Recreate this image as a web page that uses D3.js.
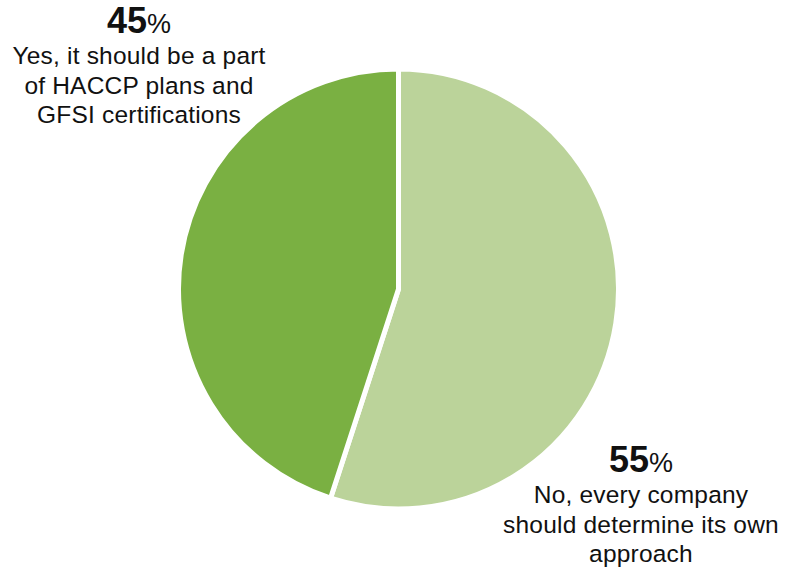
<!DOCTYPE html>
<html>
<head>
<meta charset="utf-8">
<script src="https://cdn.jsdelivr.net/npm/d3@7"></script>
<style>
  html, body { margin: 0; padding: 0; background: #fff; }
  svg { display: block; }
  text { font-family: "Liberation Sans", Arial, Helvetica, sans-serif; fill: #111; }
</style>
</head>
<body>
<svg id="chart" width="793" height="571"></svg>
<script>
// Survey answers, in drawing order (clockwise from 12 o'clock)
const answers = ["No", "Yes"];
const shares = [55, 45];
const sliceColors = ["#bbd39a", "#7ab042"];
const labelLines = [
  ["No, every company", "should determine its own", "approach"],
  ["Yes, it should be a part", "of HACCP plans and", "GFSI certifications"]
];

const width = 793, height = 571;
const cx = 398.5, cy = 289, radius = 220;

const svg = d3.select("#chart");
const g = svg.append("g").attr("transform", `translate(${cx},${cy})`);

const pie = d3.pie().sort(null).value(d => d.value);
const arc = d3.arc().innerRadius(0).outerRadius(radius);

const data = answers.map((a, i) => ({ answer: a, value: shares[i], color: sliceColors[i] }));

g.selectAll("path.slice")
  .data(pie(data))
  .join("path")
  .attr("class", "slice")
  .attr("d", arc)
  .attr("fill", d => d.data.color)
  .attr("stroke", "#fff")
  .attr("stroke-width", 5)
  .attr("stroke-linejoin", "miter");

// Label blocks: big percentage then the answer text
const labelPos = [
  { x: 641, y: 472 },
  { x: 139, y: 33 }
];

data.forEach((d, i) => {
  const p = labelPos[i];
  const t = svg.append("text")
    .attr("x", p.x)
    .attr("y", p.y)
    .attr("text-anchor", "middle");
  t.append("tspan").attr("font-size", 36).attr("font-weight", 700).text(d.value);
  t.append("tspan").attr("font-size", 27).attr("font-weight", 400).text("%");

  labelLines[i].forEach((line, j) => {
    svg.append("text")
      .attr("x", p.x)
      .attr("y", p.y + 31 + j * 29.5)
      .attr("text-anchor", "middle")
      .attr("font-size", 24.5)
      .attr("letter-spacing", 0.2)
      .text(line);
  });
});
</script>
</body>
</html>
